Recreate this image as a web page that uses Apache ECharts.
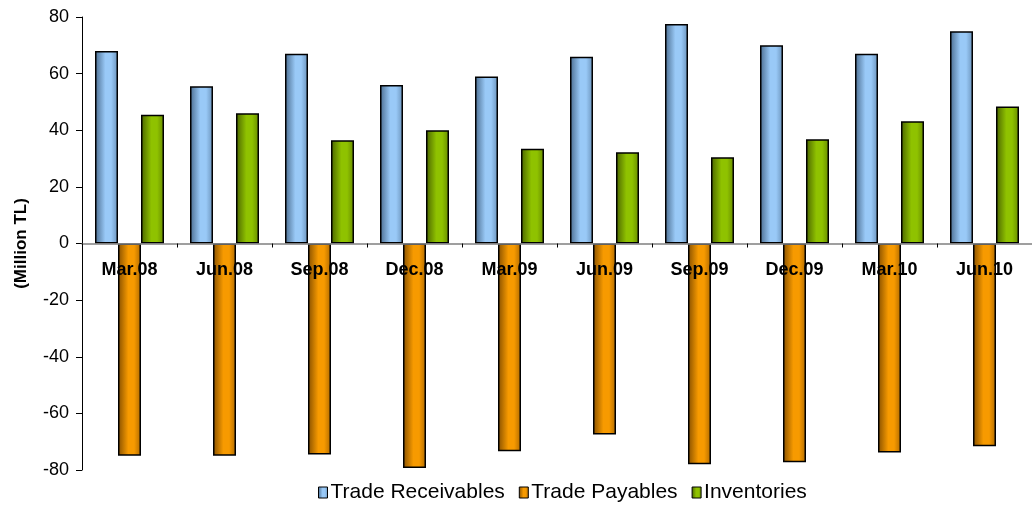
<!DOCTYPE html>
<html>
<head>
<meta charset="utf-8">
<script src="https://cdn.jsdelivr.net/npm/echarts@6/dist/echarts.min.js"></script>
<style>
  html, body { margin: 0; padding: 0; background: #fff; }
  #chart { width: 1032px; height: 506px; }
</style>
</head>
<body>
<div id="chart"></div>
<script>
var quarters = ['Mar.08', 'Jun.08', 'Sep.08', 'Dec.08', 'Mar.09', 'Jun.09', 'Sep.09', 'Dec.09', 'Mar.10', 'Jun.10'];
var receivables = [68, 55.5, 67, 56, 59, 66, 77.5, 70, 67, 75];
var payables = [-75, -75, -74.5, -79.3, -73.4, -67.5, -78, -77.3, -73.8, -71.6];
var inventories = [45.5, 46, 36.5, 40, 33.5, 32.2, 30.5, 36.8, 43.2, 48.4];
var yTicks = [-80, -60, -40, -20, 0, 20, 40, 60, 80];

// horizontal shading like the old excel bars
function shade(dark, light, mid) {
  return new echarts.graphic.LinearGradient(0, 0, 1, 0, [
    { offset: 0, color: dark },
    { offset: 0.45, color: light },
    { offset: 0.7, color: light },
    { offset: 1, color: mid }
  ]);
}

var blue = shade('#4a6c8f', '#99c9f7', '#6a92ba');
var orange = shade('#875000', '#f79a00', '#b06a00');
var green = shade('#4a6400', '#8fc200', '#668a00');

function barSeries(name, data, fill) {
  return {
    name: name,
    type: 'bar',
    data: data,
    barWidth: 23,
    barGap: '0%',
    itemStyle: { color: fill, borderColor: '#000', borderWidth: 1.5 }
  };
}

var chart = echarts.init(document.getElementById('chart'));
chart.setOption({
  animation: false,
  textStyle: { fontFamily: 'Liberation Sans, Arial, sans-serif' },
  grid: { left: 82, right: -10, top: 17, bottom: 36 },
  legend: {
    top: 477,
    left: 313,
    icon: 'rect',
    itemWidth: 9,
    itemHeight: 11,
    itemGap: 14,
    itemStyle: { borderColor: '#000', borderWidth: 1 },
    textStyle: { fontSize: 21, color: '#000', padding: [0, 0, 0, -2] },
    data: ['Trade Receivables', 'Trade Payables', 'Inventories']
  },
  xAxis: {
    type: 'category',
    data: quarters,
    position: 'bottom',
    offset: -226.5, // sits on the zero line, labels too
    z: 10,
    axisLine: { onZero: false, lineStyle: { color: '#808080', width: 1.5 } },
    axisTick: { show: true, length: 4, lineStyle: { color: '#000' } },
    axisLabel: { fontSize: 18, fontWeight: 'bold', color: '#000', margin: 18 }
  },
  yAxis: {
    type: 'value',
    min: -80,
    max: 80,
    interval: 20,
    name: '(Million TL)',
    nameLocation: 'middle',
    nameGap: 52,
    nameTextStyle: { fontSize: 17, fontWeight: 'bold', color: '#000' },
    axisLine: { show: true, lineStyle: { color: '#000' } },
    axisTick: { show: true, length: 6, lineStyle: { color: '#000' } },
    axisLabel: {
      fontSize: 18,
      color: '#000',
      margin: 13,
      formatter: function (v) { return yTicks.indexOf(v) >= 0 ? String(v) : ''; }
    },
    splitLine: { show: false }
  },
  series: [
    barSeries('Trade Receivables', receivables, blue),
    barSeries('Trade Payables', payables, orange),
    barSeries('Inventories', inventories, green)
  ]
});
</script>
</body>
</html>
